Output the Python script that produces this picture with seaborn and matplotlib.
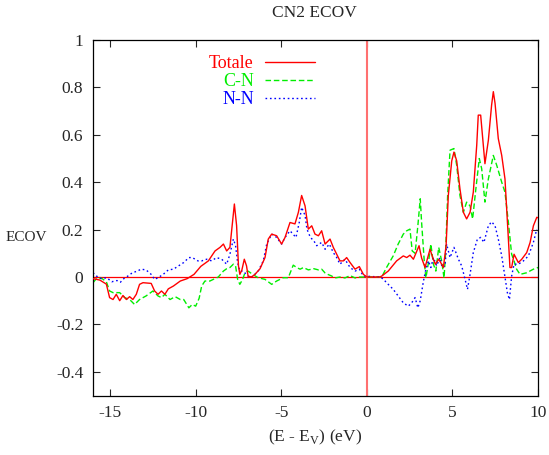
import matplotlib
matplotlib.use('Agg')
import matplotlib.pyplot as plt
import seaborn as sb
import pandas as pd

# Totale
tot_x = [-16.0, -15.6, -15.22, -15.03, -14.83, -14.64, -14.44, -14.25, -14.05, -13.86, -13.67, -13.47,
         -13.28, -13.08, -12.6, -12.4, -12.2, -12.0, -11.8, -11.6, -11.3, -10.9, -10.5, -10.1, -9.7,
         -9.26, -8.87, -8.58, -8.38, -8.19, -8.0, -7.74, -7.61, -7.5, -7.42, -7.3, -7.16, -7.03, -6.94,
         -6.74, -6.55, -6.24, -5.95, -5.76, -5.56, -5.27, -4.98, -4.78, -4.49, -4.2, -4.0, -3.81, -3.61,
         -3.42, -3.22, -3.03, -2.83, -2.64, -2.44, -2.15, -1.96, -1.76, -1.57, -1.37, -1.18, -0.98,
         -0.69, -0.44, -0.2, 0.0, 0.75, 0.87, 1.25, 1.74, 2.13, 2.33, 2.52, 2.72, 3.05, 3.2, 3.4, 3.69,
         3.88, 4.0, 4.2, 4.37, 4.47, 4.63, 4.76, 4.96, 5.09, 5.25, 5.44, 5.64, 5.83, 6.03, 6.22, 6.42,
         6.51, 6.65, 6.9, 7.1, 7.29, 7.39, 7.49, 7.68, 7.88, 8.07, 8.27, 8.36, 8.46, 8.6, 8.85, 9.05,
         9.34, 9.54, 9.73, 9.93, 10.0]
tot_y = [-0.007, -0.013, -0.03, -0.087, -0.095, -0.073, -0.10, -0.078, -0.095, -0.083, -0.095, -0.073,
         -0.031, -0.024, -0.027, -0.059, -0.073, -0.059, -0.073, -0.05, -0.038, -0.017, -0.007, 0.011, 0.045,
         0.068, 0.11, 0.125, 0.139, 0.11, 0.125, 0.308, 0.217, 0.047, 0.011, 0.03, 0.075, 0.047, 0.004,
         0.0, 0.01, 0.035, 0.082, 0.16, 0.181, 0.174, 0.139, 0.167, 0.23, 0.224, 0.273, 0.344, 0.30,
         0.202, 0.216, 0.181, 0.174, 0.195, 0.139, 0.16, 0.125, 0.096, 0.068, 0.068, 0.082, 0.061,
         0.033, 0.044, 0.011, 0.0, 0.0, 0.004, 0.025, 0.068, 0.089, 0.082, 0.092, 0.075, 0.132, 0.08, 0.04, 0.117,
         0.075, 0.054, 0.075, 0.054, 0.04, 0.132, 0.344, 0.49, 0.527, 0.49, 0.372, 0.273, 0.245, 0.273, 0.358, 0.556,
         0.683, 0.683, 0.478, 0.577, 0.726, 0.782, 0.733, 0.584, 0.513, 0.414, 0.16, 0.04, 0.04, 0.096, 0.061, 0.075,
         0.103, 0.146, 0.216, 0.252, 0.25]

# C-N
cn_x = [-16.0, -15.8, -15.5, -15.22, -15.03, -14.83, -14.44, -14.15, -13.86, -13.57, -13.28, -12.9,
        -12.5, -12.2, -12.0, -11.8, -11.5, -11.2, -10.9, -10.7, -10.4, -10.2, -10.0, -9.8, -9.65, -9.46,
        -9.17, -8.97, -8.68, -8.38, -8.19, -8.0, -7.8, -7.67, -7.55, -7.42, -7.26, -7.12, -6.94, -6.65,
        -6.35, -5.95, -5.56, -5.27, -4.88, -4.59, -4.3, -4.1, -3.9, -3.7, -3.42, -3.1, -2.83, -2.64,
        -2.44, -2.25, -2.05, -1.86, -1.57, -1.28, -0.98, -0.69, -0.4, 0.87, 1.15, 1.54, 1.83, 2.13,
        2.33, 2.52, 2.65, 2.82, 2.98, 3.12, 3.2, 3.36, 3.45, 3.6, 3.74, 3.89, 4.03, 4.2, 4.37, 4.51,
        4.6, 4.72, 4.86, 5.09, 5.25, 5.44, 5.64, 5.83, 6.03, 6.18, 6.37, 6.57, 6.71, 6.9, 7.1, 7.39,
        7.59, 7.88, 8.07, 8.27, 8.46, 8.6, 8.75, 8.95, 9.34, 9.73, 10.0]
cn_y = [-0.024, -0.007, -0.005, -0.02, -0.059, -0.066, -0.066, -0.087, -0.095, -0.116, -0.095, -0.08,
        -0.059, -0.08, -0.087, -0.073, -0.095, -0.083, -0.095, -0.095, -0.13, -0.116, -0.123, -0.09, -0.038, -0.017,
        -0.017, -0.01, 0.0, 0.025, 0.035, 0.04, 0.054, 0.047, -0.01, -0.031, -0.01, 0.018, 0.025, 0.01,
        -0.003, -0.01, -0.031, -0.017, -0.003, -0.003, 0.05, 0.04, 0.033, 0.04, 0.03, 0.035, 0.03, 0.033,
        0.017, 0.01, 0.004, -0.004, 0.0, -0.004, 0.006, -0.004, 0.0, 0.0, 0.04, 0.089, 0.139, 0.181,
        0.195, 0.202, 0.11, 0.10, 0.216, 0.33, 0.23, 0.061, -0.004, 0.061, 0.139, 0.054, 0.025, 0.125, 0.068, -0.004,
        0.1, 0.344, 0.535, 0.542, 0.471, 0.344, 0.273, 0.316, 0.30, 0.245, 0.372, 0.5, 0.457, 0.316, 0.414, 0.513,
        0.471, 0.40, 0.358, 0.23, 0.096, 0.068, 0.033, 0.011, 0.018, 0.033, 0.04]

# N-N
nn_x = [-16.0, -15.8, -15.5, -15.2, -14.9, -14.6, -14.4, -14.2, -13.9, -13.7, -13.4, -13.2, -12.9,
        -12.6, -12.4, -12.2, -11.9, -11.6, -11.3, -11.0, -10.7, -10.4, -10.2, -9.87, -9.65, -9.36, -9.07,
        -8.78, -8.48, -8.19, -8.0, -7.8, -7.67, -7.55, -7.42, -7.22, -7.03, -6.84, -6.65, -6.35, -6.05,
        -5.85, -5.56, -5.27, -4.98, -4.78, -4.49, -4.14, -3.95, -3.81, -3.61, -3.5, -3.3, -3.1, -2.93,
        -2.64, -2.44, -2.19, -1.96, -1.76, -1.57, -1.28, -0.98, -0.69, -0.44, -0.2, 0.8, 0.97, 1.25,
        1.54, 1.83, 2.13, 2.42, 2.62, 2.82, 2.98, 3.12, 3.3, 3.45, 3.6, 3.74, 3.89, 4.08, 4.27, 4.4,
        4.57, 4.66, 4.86, 5.09, 5.35, 5.54, 5.74, 5.88, 6.03, 6.22, 6.46, 6.65, 6.84, 7.1, 7.29, 7.49,
        7.68, 7.88, 8.07, 8.21, 8.33, 8.46, 8.6, 8.85, 9.15, 9.44, 9.73, 9.93]
nn_y = [0.018, 0.004, -0.007, -0.003, -0.02, -0.015, -0.022, -0.007, 0.007, 0.018, 0.025, 0.033, 0.03,
        0.011, -0.01, -0.003, 0.011, 0.03, 0.033, 0.047, 0.061, 0.082, 0.082, 0.068, 0.068, 0.075, 0.068,
        0.082, 0.075, 0.054, 0.096, 0.16, 0.132, 0.061, 0.025, 0.025, 0.01, -0.003, 0.004, 0.025, 0.068,
        0.139, 0.181, 0.167, 0.139, 0.167, 0.195, 0.167, 0.23, 0.294, 0.26, 0.202, 0.167, 0.153, 0.132,
        0.146, 0.117, 0.139, 0.103, 0.082, 0.054, 0.075, 0.04, 0.025, 0.033, 0.004, 0.0, -0.01, -0.031,
        -0.052, -0.08, -0.109, -0.123, -0.109, -0.087, -0.13, -0.10, -0.02, 0.033, 0.068, 0.04, 0.082, 0.047, 0.082, 0.04,
        0.047, 0.139, 0.082, 0.125, 0.075, 0.047, -0.01, -0.052, 0.011, 0.103, 0.16, 0.167, 0.146, 0.216, 0.233, 0.216,
        0.16, 0.089, 0.0, -0.066, -0.095, 0.004, 0.054, 0.054, 0.068, 0.089, 0.146, 0.202]

sb.set_style('ticks')
plt.rcParams['font.family'] = ['Liberation Serif', 'DejaVu Serif']
plt.rcParams['mathtext.fontset'] = 'custom'
plt.rcParams['mathtext.rm'] = 'Liberation Serif'
plt.rcParams['axes.unicode_minus'] = False

fig = plt.figure(figsize=(5.49, 4.55), dpi=100)
ax = fig.add_axes([93/549, 1 - 395.5/455, 445/549, 355.5/455])

ax.axhline(0, color='#ff0000', lw=0.9, zorder=1)
ax.axvline(0, color='#ff7070', lw=1.5, zorder=1)

tot = pd.DataFrame({'E': tot_x, 'ECOV': tot_y})
cn = pd.DataFrame({'E': cn_x, 'ECOV': cn_y})
nn = pd.DataFrame({'E': nn_x, 'ECOV': nn_y})

sb.lineplot(data=tot, x='E', y='ECOV', color='#ff0000', lw=1.0, label='Totale', ax=ax, zorder=3)
sb.lineplot(data=cn, x='E', y='ECOV', color='#00ee00', lw=1.0, linestyle=(0, (4, 2)), label='C-N', ax=ax, zorder=2)
sb.lineplot(data=nn, x='E', y='ECOV', color='#0000ff', lw=1.0, linestyle=(0, (1.2, 2)), label='N-N', ax=ax, zorder=2)

ax.set_xlim(-16, 10)
ax.set_ylim(-0.5, 1)
ax.set_xticks([-15, -10, -5, 0, 5, 10])
ax.set_yticks([-0.4, -0.2, 0, 0.2, 0.4, 0.6, 0.8, 1])
ax.set_yticklabels(['-0.4', '-0.2', '0', '0.2', '0.4', '0.6', '0.8', '1'])
ax.tick_params(direction='in', length=5, width=0.8, top=True, right=True, labelsize=12.5, pad=7)
ax.set_xlabel('')
ax.set_ylabel('')
for s in ax.spines.values():
    s.set_linewidth(0.9)
    s.set_color('black')

leg = ax.legend(loc='upper right', bbox_to_anchor=(0.499, 0.958), markerfirst=False, frameon=False,
                fontsize=13, handlelength=2.75, handletextpad=0.65, labelspacing=0.07, borderpad=0,
                borderaxespad=0, labelcolor='linecolor')

fig.text(314/549, 1 - 13/455, 'CN2 ECOV', ha='center', va='center', fontsize=12.5)
fig.text(26/549, 1 - 237/455, 'ECOV', ha='center', va='center', fontsize=11)
fig.text(315/549, 1 - 437/455, r'(E - E$_\mathrm{V}$) (eV)', ha='center', va='center', fontsize=12.5)

fig.savefig('out.png', dpi=100)
